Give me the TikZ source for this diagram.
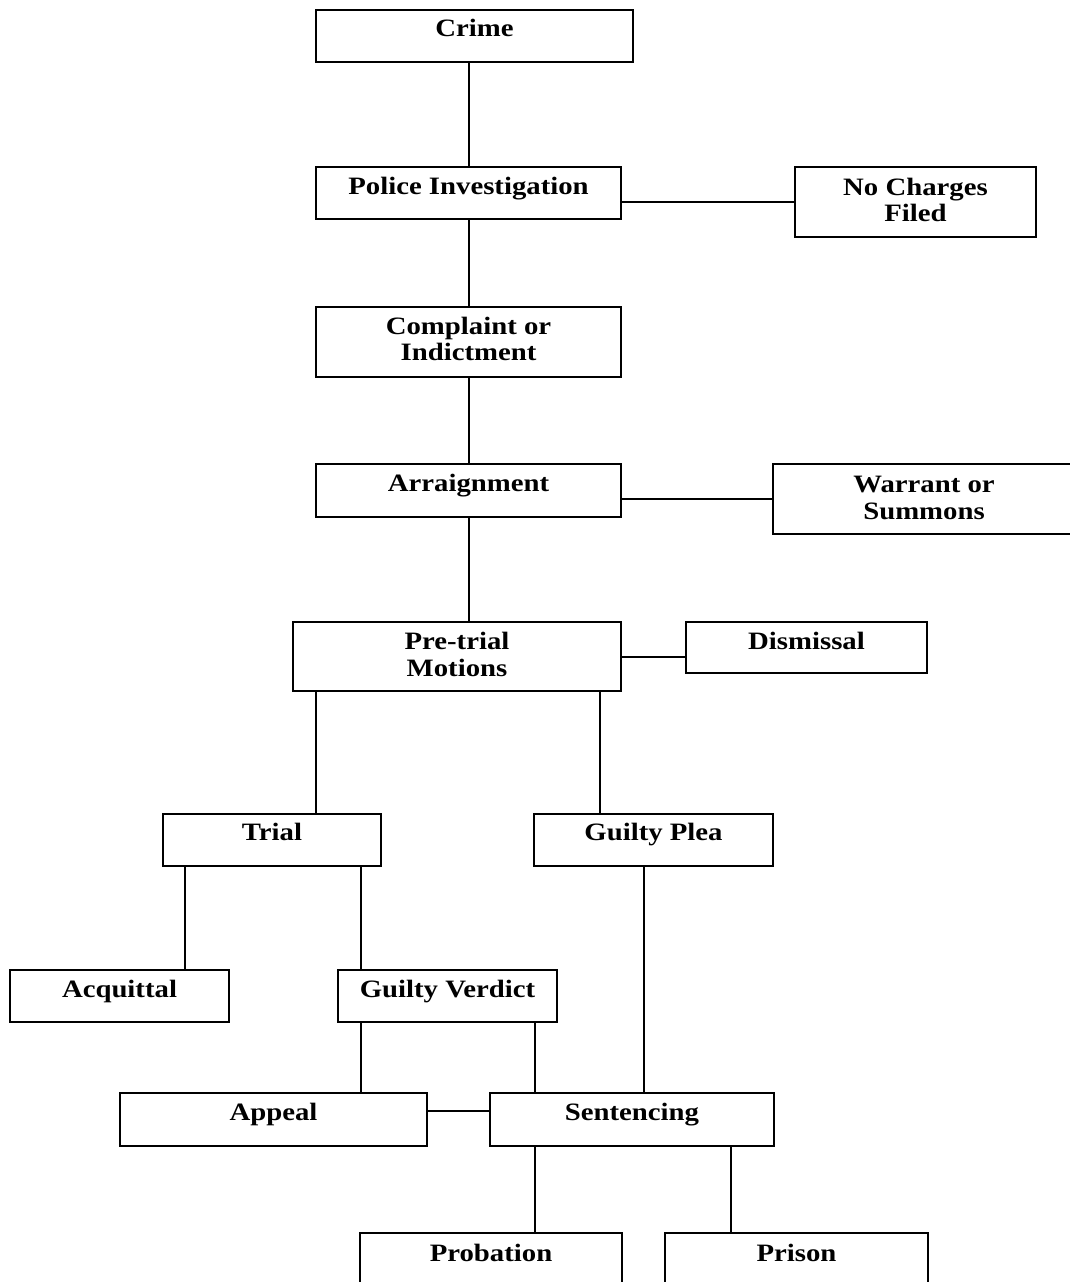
\documentclass[tikz,border=0pt]{standalone}
\usepackage{fontspec}
\setmainfont[FakeStretch=1.15]{Liberation Serif}
\begin{document}
\begin{tikzpicture}[x=1pt,y=-1pt,
  box/.style={draw=black,line width=1.7pt,inner sep=0pt,rectangle},
  lbl/.style={anchor=base,inner sep=0pt,font=\fontsize{25}{30}\selectfont\bfseries},
  conn/.style={draw=black,line width=1.7pt}]
\useasboundingbox (0,0) rectangle (1070,1282);
\clip (0,0) rectangle (1070,1282);
% boxes
\node[box,minimum width=317pt,minimum height=52pt] (crime) at (474.5,36) {};
\node[box,minimum width=305pt,minimum height=52pt] (police) at (468.5,193) {};
\node[box,minimum width=241pt,minimum height=70pt] (nocharge) at (915.5,202) {};
\node[box,minimum width=305pt,minimum height=70pt] (complaint) at (468.5,342) {};
\node[box,minimum width=305pt,minimum height=53pt] (arraign) at (468.5,490.5) {};
\node[box,minimum width=302pt,minimum height=70pt] (warrant) at (924,499) {};
\node[box,minimum width=328pt,minimum height=69pt] (pretrial) at (457,656.5) {};
\node[box,minimum width=241pt,minimum height=51pt] (dismissal) at (806.5,647.5) {};
\node[box,minimum width=218pt,minimum height=52pt] (trial) at (272,840) {};
\node[box,minimum width=239pt,minimum height=52pt] (gplea) at (653.5,840) {};
\node[box,minimum width=219pt,minimum height=52pt] (acquittal) at (119.5,996) {};
\node[box,minimum width=219pt,minimum height=52pt] (gverdict) at (447.5,996) {};
\node[box,minimum width=307pt,minimum height=53pt] (appeal) at (273.5,1119.5) {};
\node[box,minimum width=284pt,minimum height=53pt] (sentencing) at (632,1119.5) {};
\node[box,minimum width=262pt,minimum height=80pt] (probation) at (491,1273) {};
\node[box,minimum width=263pt,minimum height=80pt] (prison) at (796.5,1273) {};
% labels
\node[lbl] (crimeT) at ([yshift=-27pt]crime.north) {Crime};
\node[lbl] (policeT) at ([yshift=-28pt]police.north) {Police Investigation};
\node[lbl] (nochargeT1) at ([yshift=-29pt]nocharge.north) {No Charges};
\node[lbl] (nochargeT2) at ([yshift=-55pt]nocharge.north) {Filed};
\node[lbl] (complaintT1) at ([yshift=-28pt]complaint.north) {Complaint or};
\node[lbl] (complaintT2) at ([yshift=-54pt]complaint.north) {Indictment};
\node[lbl] (arraignT) at ([yshift=-28pt]arraign.north) {Arraignment};
\node[lbl] (warrantT1) at ([yshift=-29pt]warrant.north) {Warrant or};
\node[lbl] (warrantT2) at ([yshift=-56pt]warrant.north) {Summons};
\node[lbl] (pretrialT1) at ([yshift=-28pt]pretrial.north) {Pre-trial};
\node[lbl] (pretrialT2) at ([yshift=-55pt]pretrial.north) {Motions};
\node[lbl] (dismissalT) at ([yshift=-28pt]dismissal.north) {Dismissal};
\node[lbl] (trialT) at ([yshift=-27pt]trial.north) {Trial};
\node[lbl] (gpleaT) at ([yshift=-27pt]gplea.north) {Guilty Plea};
\node[lbl] (acquittalT) at ([yshift=-28pt]acquittal.north) {Acquittal};
\node[lbl] (gverdictT) at ([yshift=-28pt]gverdict.north) {Guilty Verdict};
\node[lbl] (appealT) at ([yshift=-28pt]appeal.north) {Appeal};
\node[lbl] (sentencingT) at ([yshift=-28pt]sentencing.north) {Sentencing};
\node[lbl] (probationT) at ([yshift=-29pt]probation.north) {Probation};
\node[lbl] (prisonT) at ([yshift=-29pt]prison.north) {Prison};
% connector columns/rows
\coordinate (xMain) at (469,0);
\coordinate (xTrial) at (316,0);
\coordinate (xPlea) at (600,0);
\coordinate (xAcq) at (185,0);
\coordinate (xGV) at (361,0);
\coordinate (xGVS) at (535,0);
\coordinate (xGPS) at (644,0);
\coordinate (xProb) at (535,0);
\coordinate (xPris) at (731,0);
\coordinate (yAppeal) at (0,1111);
\coordinate (yDis) at (0,657);
% connectors
\draw[conn] (crime.south -| xMain) -- (police.north -| xMain);
\draw[conn] (police.south -| xMain) -- (complaint.north -| xMain);
\draw[conn] (complaint.south -| xMain) -- (arraign.north -| xMain);
\draw[conn] (arraign.south -| xMain) -- (pretrial.north -| xMain);
\draw[conn] (nocharge.west -| police.east) -- (nocharge.west);
\draw[conn] (warrant.west -| arraign.east) -- (warrant.west);
\draw[conn] (pretrial.east |- yDis) -- (dismissal.west |- yDis);
\draw[conn] (pretrial.south -| xTrial) -- (trial.north -| xTrial);
\draw[conn] (pretrial.south -| xPlea) -- (gplea.north -| xPlea);
\draw[conn] (trial.south -| xAcq) -- (acquittal.north -| xAcq);
\draw[conn] (trial.south -| xGV) -- (gverdict.north -| xGV);
\draw[conn] (gverdict.south -| xGV) -- (appeal.north -| xGV);
\draw[conn] (gverdict.south -| xGVS) -- (sentencing.north -| xGVS);
\draw[conn] (gplea.south -| xGPS) -- (sentencing.north -| xGPS);
\draw[conn] (appeal.east |- yAppeal) -- (sentencing.west |- yAppeal);
\draw[conn] (sentencing.south -| xProb) -- (probation.north -| xProb);
\draw[conn] (sentencing.south -| xPris) -- (prison.north -| xPris);
\end{tikzpicture}
\end{document}
